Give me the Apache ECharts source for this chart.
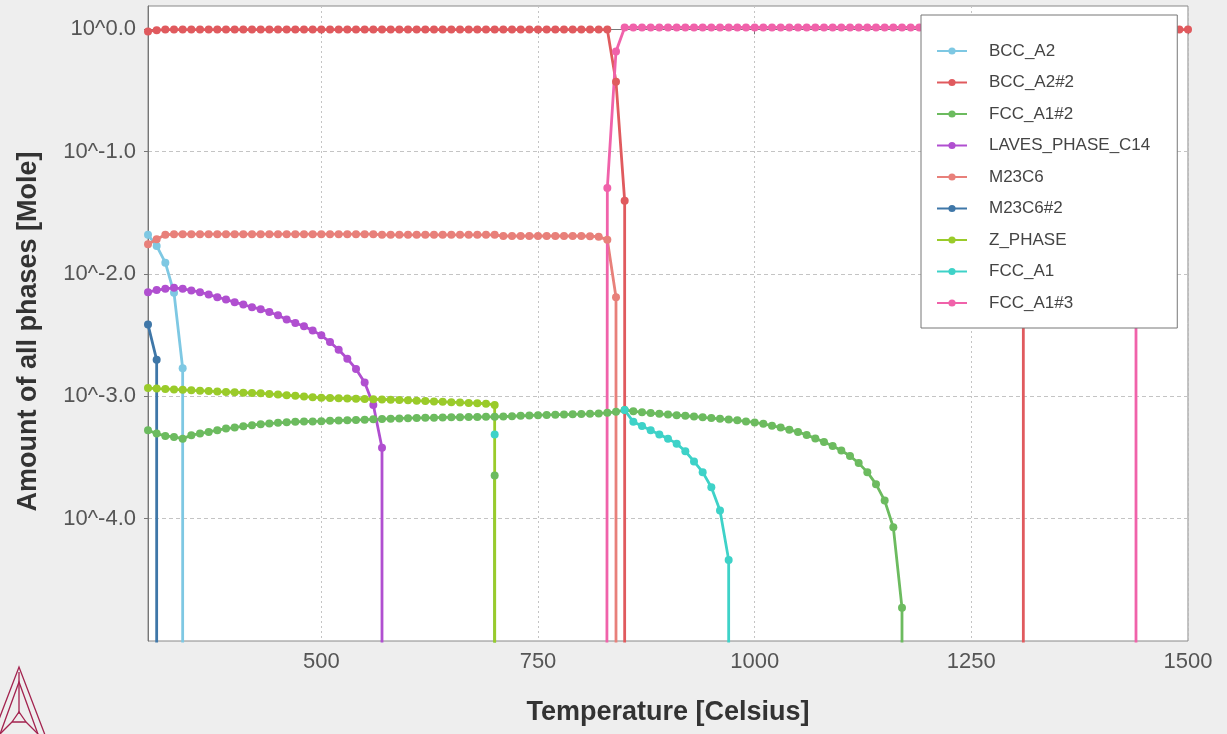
<!DOCTYPE html>
<html><head><meta charset="utf-8">
<script src="https://cdn.jsdelivr.net/npm/echarts@6/dist/echarts.min.js"></script>
<style>html,body{margin:0;padding:0;background:#eeeeee;}#c{width:1227px;height:734px;}</style>
</head><body><div id="c"></div>
<script>
// Values are log10(amount of phase [mol]); calculation steps every 10 °C.
const FLOOR = -9; // amount ~0 (phase absent) -> below the axis
const phaseNames = ['BCC_A2','BCC_A2#2','FCC_A1#2','LAVES_PHASE_C14','M23C6','M23C6#2','Z_PHASE','FCC_A1','FCC_A1#3'];
const phaseColors = ['#7ec8e3','#e05a5e','#6cbb5f','#b04fd0','#e8807a','#3f77a8','#9acb2a','#3ed2c8','#f062aa'];
const xTicks = [500, 750, 1000, 1250, 1500];
const yTicks = [-4, -3, -2, -1, 0];

// BCC_A2 from 300 °C
const bccA2 = [-1.68, -1.771, -1.908, -2.154, -2.771];
// BCC_A2#2 from 300 °C (low-T ferrite)
const bccA2_2a = [-0.018, -0.008,
  -0.003,-0.003,-0.003,-0.003,-0.003,-0.003,-0.003,-0.003,-0.003,-0.003,-0.003,-0.003,-0.003,
  -0.003,-0.003,-0.003,-0.003,-0.003,-0.003,-0.003,-0.003,-0.003,-0.003,-0.003,-0.003,-0.003,
  -0.003,-0.003,-0.003,-0.003,-0.003,-0.003,-0.003,-0.003,-0.003,-0.003,-0.003,-0.003,-0.003,
  -0.003,-0.003,-0.003,-0.003,-0.003,-0.003,-0.003,-0.003,-0.003,-0.003,-0.003,-0.003,-0.003,
  -0.429, -1.401];
// BCC_A2#2 from 1310 °C (delta ferrite)
const bccA2_2b = [-2.2, -1.1, -0.81, -0.64, -0.51, -0.41, -0.34, -0.27, -0.21, -0.16, -0.11, -0.07, -0.035, -0.004,
  -0.003, -0.003, -0.003, -0.003, -0.003, -0.003];
// FCC_A1#2 from 300 °C
const fccA1_2 = [-3.277,-3.305,-3.324,-3.332,-3.346,-3.318,-3.305,-3.291,-3.277,-3.264,
  -3.256,-3.244,-3.236,-3.228,-3.223,-3.217,-3.213,-3.209,-3.206,-3.205,
  -3.203,-3.200,-3.198,-3.196,-3.193,-3.191,-3.188,-3.186,-3.183,-3.181,
  -3.179,-3.177,-3.176,-3.175,-3.173,-3.172,-3.171,-3.170,-3.169,-3.168,
  -3.168,-3.165,-3.163,-3.159,-3.157,-3.154,-3.152,-3.150,-3.149,-3.147,
  -3.145,-3.143,-3.140,-3.135,-3.127,-3.113,-3.122,-3.131,-3.137,-3.143,
  -3.149,-3.154,-3.159,-3.165,-3.172,-3.178,-3.184,-3.190,-3.196,-3.205,
  -3.214,-3.225,-3.240,-3.256,-3.274,-3.291,-3.316,-3.344,-3.373,-3.406,
  -3.443,-3.488,-3.546,-3.620,-3.718,-3.852,-4.071,-4.729];
const fccA1_2At700 = -3.647;
// LAVES_PHASE_C14 from 300 °C
const laves = [-2.149,-2.132,-2.122,-2.113,-2.122,-2.135,-2.149,-2.168,-2.190,-2.209,
  -2.231,-2.250,-2.272,-2.288,-2.311,-2.338,-2.373,-2.401,-2.428,-2.463,
  -2.502,-2.557,-2.620,-2.693,-2.776,-2.888,-3.071,-3.420];
// M23C6 from 300 °C
const m23c6 = [-1.757,-1.716,-1.680,
  -1.675,-1.675,-1.675,-1.675,-1.675,-1.675,-1.675,-1.675,-1.675,-1.675,-1.675,-1.675,
  -1.675,-1.675,-1.675,-1.675,-1.675,-1.675,-1.675,-1.675,-1.675,-1.675,-1.675,-1.675,
  -1.680,-1.680,-1.680,-1.680,-1.680,-1.680,-1.680,-1.680,-1.680,-1.680,-1.680,-1.680,-1.680,-1.680,
  -1.690,-1.690,-1.690,-1.690,-1.690,-1.690,-1.690,-1.690,-1.690,-1.690,
  -1.692,-1.695,-1.721,-2.19];
// M23C6#2 from 300 °C
const m23c6_2 = [-2.414, -2.702];
// Z_PHASE from 300 °C
const zPhase = [-2.933,-2.937,-2.940,-2.944,-2.947,-2.951,-2.954,-2.957,-2.961,-2.964,
  -2.967,-2.970,-2.973,-2.976,-2.981,-2.986,-2.991,-2.996,-3.002,-3.007,
  -3.012,-3.014,-3.016,-3.018,-3.020,-3.022,-3.024,-3.026,-3.028,-3.030,
  -3.033,-3.036,-3.039,-3.042,-3.045,-3.048,-3.051,-3.054,-3.057,-3.060,-3.071];
// FCC_A1: single point at 700 °C, then from 850 °C
const fccA1At700 = -3.313;
const fccA1 = [-3.113,-3.209,-3.242,-3.277,-3.313,-3.346,-3.387,-3.449,-3.532,-3.620,-3.743,-3.934,-4.337];
// FCC_A1#3 (austenite) from 830 °C
const fccA1_3 = [-1.297, -0.182,
  0.015,0.015,0.015,0.015,0.015,0.015,0.015,0.015,0.015,0.015,0.015,0.015,0.015,0.015,0.015,0.015,
  0.015,0.015,0.015,0.015,0.015,0.015,0.015,0.015,0.015,0.015,0.015,0.015,0.015,0.015,0.015,0.015,
  0.015,0.015,0.015,0.015,0.015,0.015,0.015,0.015,0.015,0.015,0.015,0.015,0.015,0.015,
  0.012,-0.035,-0.07,-0.11,-0.16,-0.21,-0.27,-0.34,-0.41,-0.51,-0.64,-0.81,-1.1,-2.2];

function steps(startT, vals) { return vals.map((v, i) => [startT + 10 * i, v]); }
const gap = t => [t, null];

const seriesData = [
  [...steps(300, bccA2), [340, FLOOR]],
  [...steps(300, bccA2_2a), [850, FLOOR], gap(1000), [1310, FLOOR], ...steps(1310, bccA2_2b)],
  [...steps(300, fccA1_2), [1170, FLOOR], gap(900), [700, fccA1_2At700], [700, FLOOR]],
  [...steps(300, laves), [570, FLOOR]],
  [...steps(300, m23c6), [840, FLOOR]],
  [...steps(300, m23c6_2), [310, FLOOR]],
  [...steps(300, zPhase), [700, FLOOR]],
  [[700, fccA1At700], gap(780), ...steps(850, fccA1), [970, FLOOR]],
  [[829, FLOOR], ...steps(830, fccA1_3), [1440, FLOOR]]
];

const FONT = 'Liberation Sans, Arial, sans-serif';
const chart = echarts.init(document.getElementById('c'));
chart.setOption({
  animation: false,
  backgroundColor: '#eeeeee',
  textStyle: { fontFamily: FONT },
  grid: { left: 148, top: 6, width: 1040, height: 635, show: true, backgroundColor: '#ffffff', borderColor: '#888', borderWidth: 1 },
  xAxis: {
    type: 'value', min: 300, max: 1500,
    name: 'Temperature [Celsius]', nameLocation: 'middle', nameGap: 58,
    nameTextStyle: { fontSize: 27, fontWeight: 'bold', color: '#333', fontFamily: FONT },
    axisLine: { lineStyle: { color: '#777' } },
    axisTick: { customValues: xTicks, length: 5, lineStyle: { color: '#777' } },
    axisLabel: { customValues: xTicks, fontSize: 22, color: '#555', margin: 10, formatter: v => String(v) },
    splitLine: { show: true, lineStyle: { color: '#c4c4c4', type: [2, 3] } }
  },
  yAxis: {
    type: 'value', min: -5, max: 0.19,
    name: 'Amount of all phases [Mole]', nameLocation: 'middle', nameGap: 106, nameRotate: 90,
    nameTextStyle: { fontSize: 27, fontWeight: 'bold', color: '#333', fontFamily: FONT, padding: [0, 16, 0, 0] },
    axisLine: { show: true, lineStyle: { color: '#777' } },
    axisTick: { show: true, customValues: yTicks, length: 4, lineStyle: { color: '#777' } },
    axisLabel: { customValues: yTicks, fontSize: 22, color: '#555', margin: 12,
      formatter: v => '10^' + Number(v).toFixed(1) },
    splitLine: { show: true, lineStyle: { color: '#c4c4c4', type: [4, 3] } }
  },
  legend: {
    data: phaseNames, orient: 'vertical', left: 921, top: 15,
    padding: [26, 27, 15, 15], itemGap: 11.5, itemWidth: 30, itemHeight: 9,
    backgroundColor: '#ffffff', borderColor: '#777', borderWidth: 1, borderRadius: 0,
    textStyle: { fontSize: 17, color: '#444', fontFamily: FONT, lineHeight: 20, padding: [0, 0, 0, 17] }
  },
  series: phaseNames.map((n, i) => ({
    name: n, type: 'line', data: seriesData[i], color: phaseColors[i],
    symbol: 'circle', symbolSize: 8, showSymbol: true, clip: true, connectNulls: false,
    lineStyle: { width: 2.8 }, emphasis: { disabled: true }
  })),
  graphic: { elements: [
    { type: 'polyline', shape: { points: [[-12, 748], [19, 667], [50, 748]] }, style: { stroke: '#a3234f', lineWidth: 1.3, fill: null } },
    { type: 'polyline', shape: { points: [[-5, 748], [19, 682], [43, 748]] }, style: { stroke: '#a3234f', lineWidth: 1.3, fill: null } },
    { type: 'polyline', shape: { points: [[19, 672], [19, 714]] }, style: { stroke: '#a3234f', lineWidth: 1.3, fill: null } },
    { type: 'polygon', shape: { points: [[12, 722], [19, 712], [26, 722]] }, style: { stroke: '#a3234f', lineWidth: 1.3, fill: null } },
    { type: 'polyline', shape: { points: [[0, 734], [12, 722]] }, style: { stroke: '#a3234f', lineWidth: 1.3, fill: null } },
    { type: 'polyline', shape: { points: [[26, 722], [38, 734]] }, style: { stroke: '#a3234f', lineWidth: 1.3, fill: null } }
  ] }
});
</script></body></html>
